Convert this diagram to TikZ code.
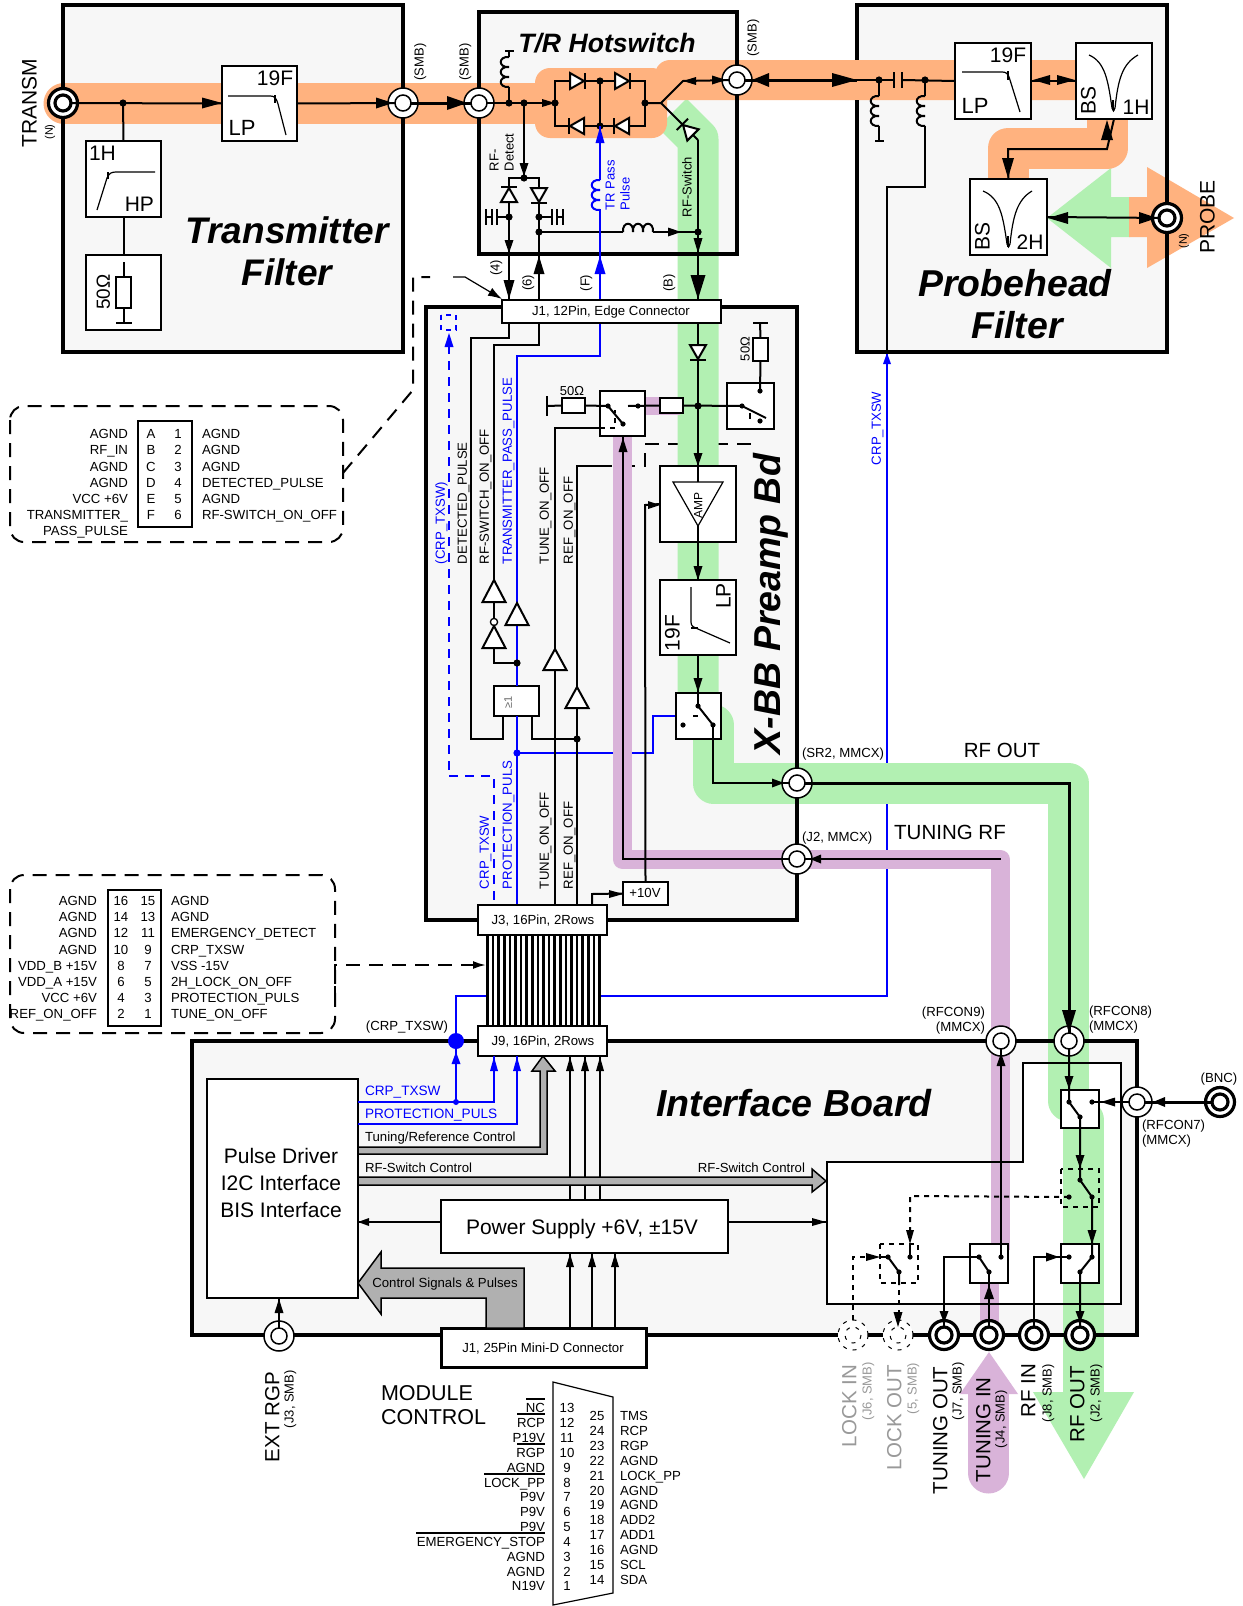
\documentclass[tikz,border=0pt]{standalone}
\usepackage{fontspec}
\setmainfont{Liberation Sans}
\usetikzlibrary{arrows.meta,calc}
\definecolor{oc}{HTML}{FFB27F}
\definecolor{gc}{HTML}{B2F0B2}
\definecolor{pc}{HTML}{D9B3D9}
\definecolor{bg}{HTML}{F7F7F7}
\definecolor{gy}{HTML}{B0B0B0}
\definecolor{lk}{HTML}{999999}
\definecolor{bl}{HTML}{0000FF}
\newcommand\fs[1]{\fontsize{#1}{#1}\selectfont}
\newcount\tcnt
\newcommand\lbl[4][]{\global\advance\tcnt by 1\relax\node[#1] (t\the\tcnt) at (#2,#3) {#4};}
\newcommand\bx[6][wbox]{\node[#1,minimum width={#4-#2},minimum height={#5-#3}] (#6) at ({(#2+#4)/2},{(#3+#5)/2}) {};}
\newcommand\aR[4]{\fill (#1,#2)--++(-#3,-#4)--++(0,{2*#4})--cycle;}
\newcommand\aL[4]{\fill (#1,#2)--++(#3,-#4)--++(0,{2*#4})--cycle;}
\newcommand\aU[4]{\fill (#1,#2)--++(-#4,#3)--++({2*#4},0)--cycle;}
\newcommand\aD[4]{\fill (#1,#2)--++(-#4,-#3)--++({2*#4},0)--cycle;}
\newcommand\dotat[3]{\coordinate (#1) at (#2,#3);\fill (#1) circle[radius=3.6];}
\newcommand\sdot[3]{\coordinate (#1) at (#2,#3);\fill (#1) circle[radius=2.6];}
\newcommand\diode[3]{\begin{scope}[shift={(#1,#2)},rotate=#3]\filldraw[ln,fill=white] (-7,-8)--(-7,8)--(7,0)--cycle;\draw[ln] (8,-8)--(8,8);\end{scope}}
\newcommand\buf[3]{\filldraw[ln,fill=white] (#1,#2)--({#1-11.5},#3)--({#1+11.5},#3)--cycle;}
\newcommand\coilV[4][black]{\foreach \k in {0,1,2}{\draw[ln,#1,fill=none] (#2,{#3+\k*10}) .. controls ({#2-11},{#3+\k*10-1}) and ({#2-11},{#3+\k*10+11}) .. (#2,{#3+\k*10+10});}}
\newcommand\coilH[3]{\foreach \k in {0,1,2}{\draw[ln] ({#1+\k*10},#2) .. controls ({#1+\k*10-1},{#2-11}) and ({#1+\k*10+11},{#2-11}) .. ({#1+\k*10+10},#2);}}
\tikzset{
 wbox/.style={draw,line width=2.2pt,fill=white,inner sep=0pt,outer sep=0pt},
 ln/.style={line width=2pt},
 thk/.style={line width=3pt},
 thn/.style={line width=1.2pt},
 blu/.style={line width=2pt,draw=bl},
 bord/.style={line width=3.4pt,line cap=square},
 band/.style={line width=41pt,line join=round},
 cdash/.style={line width=2pt,dash pattern=on 14pt off 9pt},
 sdash/.style={line width=2pt,dash pattern=on 5pt off 5pt},
 bdash/.style={line width=2pt,draw=bl,dash pattern=on 9pt off 7pt},
 lb/.style={font=\fs{#1},inner sep=0pt,outer sep=0pt,text height=#1*0.72pt,text depth=0pt},
 lb/.default=13.2,
 ti/.style={font=\fs{#1}\bfseries\itshape,inner sep=0pt,outer sep=0pt,text height=#1*0.72pt,text depth=0pt},
 cthin/.style={circle,draw,line width=1.5pt,fill=white,minimum size=30pt,inner sep=0pt,outer sep=0pt},
 cthick/.style={circle,draw,line width=3.2pt,fill=white,minimum size=29pt,inner sep=0pt,outer sep=0pt},
 cgray/.style={circle,fill=white,minimum size=30pt,inner sep=0pt,outer sep=0pt},
 gdash/.style={line width=1pt,dash pattern=on 4pt off 6pt},
}
\begin{document}
\begin{tikzpicture}[x=1pt,y=-1pt]
\useasboundingbox (0,0) rectangle (1242,1606);
\fill[white] (0,0) rectangle (1242,1606);
% box fills
\fill[bg] (63,5) rectangle (403,352);
\fill[bg] (479,12) rectangle (737,254);
\fill[bg] (857,5) rectangle (1167,352);
\fill[bg] (426,307) rectangle (797,920);
\fill[bg] (192,1041) rectangle (1137,1335);
\coordinate (subA) at (827,1162);
\coordinate (subB) at (1023,1162);
\coordinate (subC) at (1023,1063);
\coordinate (subD) at (1121,1063);
\coordinate (subE) at (1121,1304);
\coordinate (subF) at (827,1304);
\fill[white] (subA)--(subB)--(subC)--(subD)--(subE)--(subF)--cycle;
% lines that pass under the bands
\draw[blu] (601,996)--(887,996)--(887,354);
\fill[bl] (887,353)--++(-4,11)--++(8,0)--cycle;
\draw[blu] (517,753)--(653,753)--(653,716)--(676,716);
\draw[ln] (577,708)--(577,466)--(598,466);
\draw[cdash] (598,466)--(645,466)--(645,444)--(752,444)--(752,436);
% bands
\draw[gc,band] (672,113)--(698,139)--(698,700);
\draw[gc,band,line cap=round] (713.5,725)--(713.5,783)--(1068.5,783)--(1068.5,1101);
\draw[gc,band,line cap=round] (1083.5,1120)--(1083.5,1400);
\fill[gc] (1033,1392)--(1134,1392)--(1084,1479)--cycle;
\fill[gc] (1047,218)--(1111,168)--(1111,197)--(1130,197)--(1130,237)--(1111,237)--(1111,268)--cycle;
\draw[oc,band,line cap=round] (64,103.5)--(540,103.5);
\fill[oc,rounded corners=15] (535,68) rectangle (667,138);
\fill[oc,rounded corners=15] (655,110)--(655,60)--(1110,60)--(1110,100)--(655,100)--cycle;
\draw[oc,band] (1107,110)--(1107,148)--(1008,148)--(1008,190);
\fill[oc] (1234,218)--(1147,167)--(1147,197)--(1129,197)--(1129,237)--(1147,237)--(1147,268)--cycle;
\draw[pc,line width=19pt,line join=round] (622.5,437)--(622.5,859.5)--(1000.5,859.5)--(1000.5,1250);
\fill[pc] (640,397) rectangle (680,415);
\draw[pc,line width=19pt] (989,1275)--(989,1345);
\draw[pc,line width=41pt,line cap=round] (988.5,1390)--(988.5,1473);
\fill[pc] (989,1352)--(1018,1394)--(960,1394)--cycle;
% borders
\draw[bord] (63,5) rectangle (403,352);
\draw[bord] (479,12) rectangle (737,254);
\draw[bord] (857,5) rectangle (1167,352);
\fill[oc] (854,60) rectangle (860,100);
\draw[bord] (426,307) rectangle (797,920);
\draw[bord] (192,1041) rectangle (1137,1335);
\draw[ln] (subA)--(subB)--(subC)--(subD)--(subE)--(subF)--cycle;
% white boxes
\bx{222}{66}{297}{141}{txLP}
\bx{86}{141}{161}{217}{txHP}
\bx{86}{255}{161}{330}{txR}
\bx{955}{43}{1031}{119}{prLP}
\bx{1076}{43}{1152}{119}{bs1}
\bx{970}{179}{1047}{255}{bs2}
\bx{600}{391}{645}{436}{sw1}
\bx{727}{383}{774}{429}{sw2}
\bx{660}{466}{736}{542}{amp}
\bx{660}{580}{736}{655}{paLP}
\bx{676}{693}{721}{739}{sw3}
\bx{494}{686}{539}{716}{orG}
\bx{623}{882}{668}{905}{tenV}
\bx{207}{1079}{358}{1298}{pulse}
\bx{441}{1200}{728}{1253}{power}
\bx{1061}{1090}{1099}{1128}{swA}
\bx{970}{1244}{1008}{1283}{swB}
\bx{1061}{1244}{1099}{1283}{swC}
\bx{562}{398}{585}{413}{r1}
\bx{660}{398}{683}{413}{r2}
\bx{753}{338}{768}{361}{r3}
% connectors
\node[cthick] (cTr) at (63,103) {};
\node[cthin] (cTxO) at (403,103) {};
\node[cthin] (cTrI) at (479,103) {};
\node[cthin] (cTrO) at (737,80) {};
\node[cthick] (cPr) at (1167,218) {};
\node[cthin] (cSR) at (797,783) {};
\node[cthin] (cJ2) at (797,859) {};
\node[cthin] (cR9) at (1001,1041) {};
\node[cthin] (cR8) at (1069,1041) {};
\node[cthin] (cR7) at (1137,1102) {};
\node[cthick] (cBNC) at (1220,1102) {};
\node[cthin] (cExt) at (279,1336) {};
\node[cgray] (cLI) at (853,1335) {};
\node[cgray] (cLO) at (898,1335) {};
\node[cthick] (cTO) at (944,1335) {};
\node[cthick] (cTI) at (989,1335) {};
\node[cthick] (cRI) at (1034,1335) {};
\node[cthick] (cRO) at (1080,1335) {};
% ---------- Transmitter filter
\dotat{d1}{123}{103}
\draw[ln] (cTr.center)--(txLP.west);
\aR{222}{103}{20}{5.5}
\draw[ln] (d1)--(txHP.north);
\draw[ln] (txHP.south)--(txR.north);
\draw[ln] (txLP.east)--(cTxO.center);
\aR{393}{103}{17}{5.5}
\draw[thk] (cTxO.center)--(cTrI.center);
\aR{467}{103}{20}{7}
\draw[thn] (228,96)--(270,96) .. controls (274,96) and (276,97) .. (278,104)--(286,135);
\draw[ln] (275,95)--(275,103);
\draw[thn] (97,210)--(107,178) .. controls (109,173) and (112,172) .. (116,172)--(155,172);
\draw[ln] (108,172)--(108,179);
\draw[ln] (124,262)--(124,323);
\draw[ln,fill=white] (116,277) rectangle (131,308);
\draw[ln] (116,323)--(132,323);
% ---------- T/R hotswitch
\dotat{t1}{509}{103}\dotat{t2}{524}{103}\dotat{t3}{555}{103}
\dotat{t4}{600}{81}\dotat{t5}{600}{126}\dotat{t6}{645}{103}
\draw[ln] (cTrI.center)--(t3);
\aR{555}{103}{13}{4}
\draw[ln] (555,81)--(645,81)--(645,126)--(555,126)--cycle;
\draw[ln] (t4)--(t5);
\diode{577}{81}{0}\diode{622}{81}{0}\diode{577}{126}{180}\diode{622}{126}{180}
\draw[ln] (t1)--(509,87);
\coilV{509}{57}{0}
\draw[ln] (509,57)--(509,51);\draw[ln] (505,51)--(514,51);
\coordinate (t7) at (661,103);\coordinate (t8) at (683,81);
\draw[ln] (t6)--(t7)--(t8)--(cTrO.center);
\aL{683}{81}{13}{4}\aR{726}{80}{14}{4.5}
\draw[ln] (t7)--(698,140);
\diode{688}{130}{135}
\dotat{t9}{698}{232}
\draw[ln] (698,140)--(t9)--(698,300);
\aD{698}{253}{15}{4.5}\aD{698}{299}{24}{7.5}
\dotat{t10}{524}{178}
\draw[ln] (t2)--(t10);
\aD{524}{176}{13}{4.5}
\draw[ln] (509,190)--(509,178)--(539,178)--(539,190);
\diode{509}{195}{90}\diode{539}{195}{-90}
\dotat{t11}{509}{217}\dotat{t12}{539}{217}\dotat{t13}{539}{232}
\draw[ln] (509,203)--(t11)--(509,300);
\aD{509}{253}{13}{4.5}\aD{509}{299}{19}{5.5}
\draw[ln] (539,203)--(t12)--(t13)--(539,300);
\aU{539}{256}{18}{5.5}
\draw[ln] (t11)--(497,217);\draw[ln] (497,209)--(497,225);\draw[ln] (492,209)--(492,225);\draw[ln] (492,217)--(486,217);\draw[ln] (486,209)--(486,225);
\draw[ln] (t12)--(552,217);\draw[ln] (552,209)--(552,225);\draw[ln] (557,209)--(557,225);\draw[ln] (557,217)--(563,217);\draw[ln] (563,209)--(563,225);
\draw[ln] (t13)--(623,232);
\coilH{623}{232}{}
\draw[ln] (653,232)--(t9);
\aR{681}{232}{13}{4.5}
\draw[blu] (600,300)--(600,209);
\draw[blu] (600,180)--(t5);
\coilV[bl]{600}{180}{}
\fill[bl] (600,256)--++(-5.5,18)--++(11,0)--cycle;
\fill[bl] (600,127)--++(-4.5,16)--++(9,0)--cycle;
% ---------- Probehead
\draw[thk] (cTrO.center)--(857,80);
\aL{752}{80}{17}{7}\aR{857}{80}{25}{7}
\dotat{p1}{879}{80}\dotat{p2}{925}{80}
\draw[ln] (857,80)--(894,80);\draw[ln] (902,80)--(prLP.west);
\draw[ln] (894,72)--(894,88);\draw[ln] (902,72)--(902,88);
\draw[ln] (p1)--(879,96);\coilV{879}{96}{}
\draw[ln] (879,126)--(879,141);\draw[ln] (875,141)--(884,141);
\draw[ln] (p2)--(925,96);\coilV{925}{96}{}
\draw[ln] (925,126)--(925,187)--(887,187)--(887,352);
\draw[ln] (prLP.east)--(bs1.west);
\aL{1033}{80}{17}{5}\aR{1075}{80}{18}{5}
\draw[ln] (bs1.south)--(1107,149)--(1008,149)--(bs2.north);
\aU{1107}{120}{20}{6}\aD{1008}{178}{20}{6}
\draw[ln] (bs2.east)--(cPr.center);
\aL{1048}{218}{20}{6}\aR{1157}{218}{18}{6}
\draw[thn] (962,72)--(1002,72) .. controls (1006,72) and (1008,73) .. (1010,80)--(1020,112);
\draw[ln] (1008,71)--(1008,80);
\draw[thn] (1089,55) .. controls (1105,62) and (1108,80) .. (1112,108) .. controls (1114,112) and (1113,112) .. (1115,108) .. controls (1118,80) and (1122,64) .. (1138,55);
\draw[ln] (1113,100)--(1113,110);
\draw[thn] (983,191) .. controls (1000,198) and (1003,216) .. (1007,244) .. controls (1009,248) and (1008,248) .. (1010,244) .. controls (1013,216) and (1017,200) .. (1032,191);
\draw[ln] (1008,236)--(1008,247);
% ---------- Preamp
\draw[ln] (509,323)--(509,338)--(471,338)--(471,739)--(503,739)--(503,716);
\draw[ln] (539,323)--(539,345)--(494,345)--(494,580);
\draw[ln] (494,602)--(494,618);
\draw[ln] (494,627)--(494,663)--(517,663);
\buf{494}{580}{602}
\filldraw[line width=1.3pt,fill=white] (494,622) circle[radius=3.6];
\buf{494}{626}{648}
\draw[blu] (600,323)--(600,356)--(517,356)--(517,603);
\draw[blu] (517,625)--(517,686);
\draw[blu] (517,716)--(517,905);
\buf{517}{603}{625}
\fill (517,663) circle[radius=3.6];
\fill[bl] (517,753) circle[radius=3.6];
\draw[ln] (532,716)--(532,739)--(577,739);
\fill (577,739) circle[radius=3.6];
\draw[ln] (555,905)--(555,428)--(600,428);
\draw[ln] (577,708)--(577,905);
\buf{555}{649}{670}
\buf{577}{687}{708}
\draw[sdash] (600,428)--(615,428)--(615,410);
\draw[bdash] (449,776)--(494,776)--(494,905);
\draw[bdash] (449,345)--(449,776);
\draw[line width=2pt,draw=bl,dash pattern=on 5pt off 5pt] (441,315) rectangle (456,330);
\fill[bl] (449,333)--++(-4.5,14)--++(9,0)--cycle;
\draw[ln] (tenV.north)--(645,505)--(amp.west);
\aR{660}{505}{12}{4}
\draw[ln] (592,905)--(592,894)--(tenV.west);
\aR{623}{894}{14}{4}
\draw[line width=2.4pt] (623,436)--(623,859)--(cJ2.center);
\aU{623}{438}{14}{4.5}
\draw[line width=2.4pt] (cJ2.center)--(1001,859);
\aL{810}{859}{11}{4.5}
% main RF chain
\draw[ln] (698,323)--(698,345);
\diode{698}{352}{-90}
\draw[ln] (698,360)--(amp.north);
\aD{698}{466}{13}{4.5}
\dotat{m1}{698}{406}
\draw[ln] (628,406)--(r2.west);\draw[ln] (r2.east)--(742,406);
\sdot{s1}{638}{406}
\sdot{s2}{742}{406}\sdot{s3}{760}{391}\sdot{s4}{760}{421}
\draw[ln] (s2)--(766,418);
\draw[ln] (750,413)--(750,419);
\draw[ln] (s3)--(r3.south);\draw[ln] (r3.north)--(760,323);\draw[ln] (753,323)--(768,323);
\draw[ln] (547,406)--(r1.west);\draw[ln] (547,396)--(547,416);
\draw[ln] (r1.east)--(608,406);
\sdot{s5}{608}{406}
\sdot{s6}{623}{424}
\draw[ln] (s5)--(s6);
\draw[ln] (698,466)--(698,482);
\filldraw[thn,fill=white] (673,482)--(723,482)--(698,526)--cycle;
\draw[ln] (698,526)--(698,542);
\draw[ln] (amp.south)--(paLP.north);
\aD{698}{580}{14}{4.5}
\draw[ln] (paLP.south)--(698,706);
\aD{698}{692}{14}{4.5}
\sdot{s7}{698}{706}\sdot{s8}{713}{725}\sdot{s9}{683}{725}
\draw[ln] (s7)--(s8);
\draw[ln] (693,716)--(698,716);
\draw[ln] (s8)--(713,783)--(cSR.center);
\aR{784}{783}{12}{4.5}
\draw[thn] (691,587)--(691,622) .. controls (691,626) and (693,627) .. (698,629)--(730,643);
\draw[ln] (691,628)--(698,628);
% RF out
\draw[thk] (cSR.center)--(1069,783)--(cR8.center);
\aD{1069}{1033}{23}{7}
\draw[thk] (cBNC.center)--(cR7.center);
\aL{1153}{1102}{12}{5}
% J connectors
\bx{502}{300}{721}{323}{J1}
\bx{478}{905}{607}{935}{J3}
\bx{478}{1026}{607}{1056}{J9}
\bx[wbox,line width=3pt]{441}{1328}{646}{1367}{Jmini}
% ribbon
\foreach \i in {0,...,20}{\draw[line width=2.6pt] ({487.5+\i*5.6},935)--({487.5+\i*5.6},1026);}
% callout arrows
\draw[cdash] (343,473)--(413,390)--(413,277)--(430,277);
\draw[line width=1.2pt,-{Latex[length=14pt,width=9pt]}] (453,277)--(465,277)--(502,299);
\draw[cdash] (335,1000)--(335,965)--(470,965);
\draw[line width=2pt,-{Latex[length=13pt,width=8pt]}] (470,965)--(486,965);
% ---------- Interface
\draw[blu] (486,996)--(456,996)--(456,1041);
\fill[bl] (456,1041) circle[radius=8];
\draw[blu] (358,1102)--(494,1102)--(494,1056);
\draw[blu] (456,1102)--(456,1041);
\fill[bl] (456,1102) circle[radius=3];
\draw[blu] (358,1124)--(517,1124)--(517,1056);
\fill[bl] (456,1052)--++(-4.5,12)--++(9,0)--cycle;
\fill[bl] (494,1057)--++(-4,14)--++(8,0)--cycle;
\fill[bl] (517,1057)--++(-4,14)--++(8,0)--cycle;
\foreach \x in {570,585,600}{\draw[ln] (\x,1056)--(\x,1200);\aU{\x}{1057}{14}{4}}
\foreach \x in {570,592,615}{\draw[ln] (\x,1253)--(\x,1328);\aU{\x}{1254}{13}{4}}
\filldraw[line width=1.5pt,fill=gy] (358,1147)--(540,1147)--(540,1071)--(532,1071)--(543,1056)--(555,1071)--(547,1071)--(547,1154)--(358,1154)--cycle;
\filldraw[line width=1.5pt,fill=gy] (358,1177)--(812,1177)--(812,1169)--(826,1181)--(812,1192)--(812,1185)--(358,1185)--cycle;
\filldraw[line width=1.5pt,fill=gy] (358,1283)--(381,1252)--(381,1268)--(524,1268)--(524,1328)--(486,1328)--(486,1298)--(381,1298)--(381,1314)--cycle;
\draw[ln] (power.west|-0,1222)--(358,1222);
\aL{358}{1222}{11}{4}
\draw[ln] (power.east|-0,1222)--(827,1222);
\aR{826}{1222}{14}{4}
\draw[ln] (cExt.center)--(279,1298);
\aU{279}{1299}{14}{4.5}
% switch network
\sdot{a1}{1069}{1102}\sdot{a2}{1080}{1117}\sdot{a3}{1092}{1102}
\draw[ln] (cR8.center)--(a1)--(a2);
\aD{1069}{1089}{13}{4.5}
\draw[ln] (cR7.center)--(a3);
\aL{1101}{1102}{14}{4.5}
\draw[sdash] (1061,1169) rectangle (1099,1207);
\sdot{b1}{1080}{1180}\sdot{b2}{1092}{1197}\sdot{b3}{1069}{1197}
\draw[ln] (a2)--(b1)--(b2)--(1092,1257);
\aD{1080}{1168}{13}{4.5}
\aD{1092}{1244}{14}{4.5}
\sdot{c1}{1069}{1257}\sdot{c2}{1092}{1257}\sdot{c3}{1080}{1272}
\draw[ln] (c2)--(c3)--(cRO.center);
\aD{1080}{1323}{12}{4.5}
\draw[ln] (cRI.center)--(1034,1257)--(c1);
\aR{1059}{1257}{13}{4.5}
\sdot{e1}{979}{1257}\sdot{e2}{989}{1272}\sdot{e3}{1001}{1257}
\draw[line width=2.4pt] (e3)--(cR9.center);
\aU{1001}{1053}{13}{4.5}
\draw[ln] (e1)--(e2);
\draw[line width=2.4pt] (cTI.center)--(e2);
\aU{989}{1285}{14}{5}
\draw[ln] (e1)--(944,1257)--(cTO.center);
\aD{944}{1323}{12}{4.5}
\draw[sdash] (880,1244) rectangle (918,1283);
\sdot{f1}{910}{1257}\sdot{f2}{888}{1257}\sdot{f3}{899}{1272}
\draw[ln] (f2)--(f3)--(899,1285);
\draw[ln] (880,1257)--(f2);
\draw[ln] (f1)--(910,1244);
\draw[sdash] (b3)--(910,1196)--(910,1232);
\aD{910}{1244}{14}{4}
\draw[sdash] (899,1290)--(899,1320);
\aD{898}{1327}{15}{4.5}
\draw[sdash] (853,1320)--(853,1257)--(866,1257);
\aR{880}{1257}{14}{4}
% inner rings
\foreach \c in {cTxO,cTrI,cTrO,cSR,cJ2,cR9,cR8,cR7,cExt}{\filldraw[line width=1.5pt,fill=white] (\c.center) circle[radius=8];}
\foreach \c in {cTr,cPr,cBNC,cTO,cTI,cRI,cRO}{\filldraw[line width=3.2pt,fill=white] (\c.center) circle[radius=8];}
\foreach \c in {cLI,cLO}{\draw[gdash] (\c.center) circle[radius=15];\draw[gdash] (\c.center) circle[radius=8];}
% dashed pin boxes
\draw[cdash,rounded corners=14] (10,406) rectangle (343,542);
\draw[cdash,rounded corners=14] (10,875) rectangle (335,1033);
\draw[line width=2.2pt] (138,421) rectangle (192,527);
\draw[line width=2.2pt] (108,890) rectangle (161,1026);
\foreach \y/\a/\n/\b/\c [count=\i] in {434/AGND/A/1/AGND,450/RF\_IN/B/2/AGND,467/AGND/C/3/AGND,483/AGND/D/4/DETECTED\_PULSE,499/VCC +6V/E/5/AGND,515/TRANSMITTER\_/F/6/RF-SWITCH\_ON\_OFF}{
 \node[lb,anchor=east] (pa\i) at (128,\y) {\a};
 \node[lb] (pb\i) at (151,\y) {\n};
 \node[lb] (pc\i) at (178,\y) {\b};
 \node[lb,anchor=west] (pd\i) at (202,\y) {\c};
}
\lbl[lb,anchor=east]{128}{531}{PASS\_PULSE}
\foreach \y/\a/\n/\b/\c [count=\i] in {901/AGND/16/15/AGND,917/AGND/14/13/AGND,933/AGND/12/11/EMERGENCY\_DETECT,950/AGND/10/9/CRP\_TXSW,966/VDD\_B +15V/8/7/VSS -15V,982/VDD\_A +15V/6/5/2H\_LOCK\_ON\_OFF,998/VCC +6V/4/3/PROTECTION\_PULS,1014/REF\_ON\_OFF/2/1/TUNE\_ON\_OFF}{
 \node[lb,anchor=east] (qa\i) at (97,\y) {\a};
 \node[lb] (qb\i) at (121,\y) {\n};
 \node[lb] (qc\i) at (148,\y) {\b};
 \node[lb,anchor=west] (qd\i) at (171,\y) {\c};
}
% module control
\draw[thn] (553,1382)--(613,1397)--(613,1593)--(553,1605)--cycle;
\foreach \a/\n [count=\i from 0] in {NC/13,RCP/12,P19V/11,RGP/10,AGND/9,LOCK\_PP/8,P9V/7,P9V/6,P9V/5,EMERGENCY\_STOP/4,AGND/3,AGND/2,N19V/1}{
 \pgfmathsetmacro\yy{1408+\i*14.85}
 \node[lb,anchor=east] (ma\i) at (545,\yy) {\a};
 \node[lb] (mb\i) at (567,\yy) {\n};
}
\foreach \n/\a [count=\i from 0] in {25/TMS,24/RCP,23/RGP,22/AGND,21/LOCK\_PP,20/AGND,19/AGND,18/ADD2,17/ADD1,16/AGND,15/SCL,14/SDA}{
 \pgfmathsetmacro\yy{1416+\i*14.85}
 \node[lb] (mc\i) at (597,\yy) {\n};
 \node[lb,anchor=west] (md\i) at (620,\yy) {\a};
}
\draw[thn] (526,1399)--(545,1399);
\draw[thn] (517,1414)--(545,1414);
\draw[thn] (517,1444)--(545,1444);
\draw[thn] (484,1474)--(545,1474);
\draw[thn] (416,1533)--(545,1533);
% ---------- titles
\lbl[ti=37]{287}{230}{Transmitter}
\lbl[ti=37]{287}{272}{Filter}
\lbl[ti=37.4]{1015}{283}{Probehead}
\lbl[ti=37.4]{1017}{325}{Filter}
\lbl[ti=26.6]{607}{43}{T/R Hotswitch}
\lbl[ti=37.6]{794}{1103}{Interface Board}
\lbl[ti=37.5,rotate=90]{767}{604}{X-BB Preamp Bd}
% ---------- filter labels
\lbl[lb=21]{275}{78}{19F}
\lbl[lb=22]{242}{128}{LP}
\lbl[lb=21,anchor=west]{89}{153}{1H}
\lbl[lb=21,anchor=east]{154}{204}{HP}
\lbl[lb=19,rotate=90]{103}{292}{50Ω}
\lbl[lb=21]{1008}{55}{19F}
\lbl[lb=22]{975}{106}{LP}
\lbl[lb=21,rotate=90]{1088}{100}{BS}
\lbl[lb=21]{1136}{107}{1H}
\lbl[lb=21,rotate=90]{982}{236}{BS}
\lbl[lb=21]{1030}{242}{2H}
\lbl[lb=21,rotate=90]{672}{633}{19F}
\lbl[lb=21,rotate=90]{723}{596}{LP}
\lbl[lb=12,rotate=90]{698}{505}{AMP}
\lbl[lb=11,rotate=90,text=black!60]{508}{702}{≥1}
\lbl[lb=13]{572}{391}{50Ω}
\lbl[lb=13,rotate=90]{745}{349}{50Ω}
% connector labels
\lbl[lb=13,rotate=90]{419}{62}{(SMB)}
\lbl[lb=13,rotate=90]{464}{62}{(SMB)}
\lbl[lb=13,rotate=90]{752}{38}{(SMB)}
\lbl[lb=21,rotate=90]{29}{103}{TRANSM}
\lbl[lb=11,rotate=90]{49}{132}{(N)}
\lbl[lb=21,rotate=90]{1207}{217}{PROBE}
\lbl[lb=11,rotate=90]{1183}{241}{(N)}
\lbl[lb=13,rotate=90,anchor=west]{494}{171}{RF-}
\lbl[lb=13,rotate=90,anchor=west]{509}{171}{Detect}
\lbl[lb=13,rotate=90,anchor=west,text=bl]{610}{210}{TR Pass}
\lbl[lb=13,rotate=90,anchor=west,text=bl]{625}{210}{Pulse}
\lbl[lb=13,rotate=90,anchor=west]{687}{217}{RF-Switch}
\lbl[lb=13,rotate=90]{495}{268}{(4)}
\lbl[lb=13,rotate=90]{527}{283}{(6)}
\lbl[lb=13,rotate=90]{585}{283}{(F)}
\lbl[lb=13,rotate=90]{668}{283}{(B)}
\lbl[lb]{611}{311}{J1, 12Pin, Edge Connector}
\lbl[lb]{543}{920}{J3, 16Pin, 2Rows}
\lbl[lb]{543}{1041}{J9, 16Pin, 2Rows}
\lbl[lb]{645}{893}{+10V}
\lbl[lb]{543}{1348}{J1, 25Pin Mini-D Connector}
% preamp rotated labels
\lbl[lb,rotate=90,anchor=west]{462}{564}{DETECTED\_PULSE}
\lbl[lb,rotate=90,anchor=west]{484}{564}{RF-SWITCH\_ON\_OFF}
\lbl[lb,rotate=90,anchor=west,text=bl]{507}{564}{TRANSMITTER\_PASS\_PULSE}
\lbl[lb,rotate=90,anchor=west,text=bl]{440}{564}{(CRP\_TXSW)}
\lbl[lb,rotate=90,anchor=west]{544}{564}{TUNE\_ON\_OFF}
\lbl[lb,rotate=90,anchor=west]{568}{564}{REF\_ON\_OFF}
\lbl[lb,rotate=90,anchor=west,text=bl]{484}{889}{CRP\_TXSW}
\lbl[lb,rotate=90,anchor=west,text=bl]{507}{889}{PROTECTION\_PULS}
\lbl[lb,rotate=90,anchor=west]{544}{889}{TUNE\_ON\_OFF}
\lbl[lb,rotate=90,anchor=west]{568}{889}{REF\_ON\_OFF}
\lbl[lb,rotate=90,anchor=west,text=bl]{876}{465}{CRP\_TXSW}
\lbl[lb,anchor=west]{802}{753}{(SR2, MMCX)}
\lbl[lb,anchor=west]{802}{837}{(J2, MMCX)}
\lbl[lb=20.5]{1002}{750}{RF OUT}
\lbl[lb=20.5]{950}{832}{TUNING RF}
\lbl[lb,anchor=east]{448}{1026}{(CRP\_TXSW)}
\lbl[lb,anchor=east]{985}{1012}{(RFCON9)}
\lbl[lb,anchor=east]{985}{1027}{(MMCX)}
\lbl[lb,anchor=west]{1089}{1011}{(RFCON8)}
\lbl[lb,anchor=west]{1089}{1026}{(MMCX)}
\lbl[lb]{1219}{1078}{(BNC)}
\lbl[lb,anchor=west]{1142}{1125}{(RFCON7)}
\lbl[lb,anchor=west]{1142}{1140}{(MMCX)}
% interface labels
\lbl[lb=13.6,anchor=west,text=bl]{365}{1091}{CRP\_TXSW}
\lbl[lb=13.6,anchor=west,text=bl]{365}{1114}{PROTECTION\_PULS}
\lbl[lb,anchor=west]{365}{1137}{Tuning/Reference Control}
\lbl[lb,anchor=west]{365}{1168}{RF-Switch Control}
\lbl[lb,anchor=east]{805}{1168}{RF-Switch Control}
\lbl[lb=21]{281}{1156}{Pulse Driver}
\lbl[lb=21]{281}{1183}{I2C Interface}
\lbl[lb=21]{281}{1210}{BIS Interface}
\lbl[lb=21]{582}{1227}{Power Supply +6V, ±15V}
\lbl[lb]{445}{1283}{Control Signals \& Pulses}
% bottom labels
\lbl[lb=20.5,rotate=90,anchor=west]{272}{1462}{EXT RGP}
\lbl[lb=13,rotate=90,anchor=west]{289}{1428}{(J3, SMB)}
\lbl[lb=21.5,anchor=west]{381}{1393}{MODULE}
\lbl[lb=21.5,anchor=west]{381}{1417}{CONTROL}
\lbl[lb=20.5,rotate=90,anchor=west,text=lk]{849}{1447}{LOCK IN}
\lbl[lb=13,rotate=90,anchor=west,text=lk]{867}{1420}{(J6, SMB)}
\lbl[lb=20.5,rotate=90,anchor=west,text=lk]{894}{1470}{LOCK OUT}
\lbl[lb=13,rotate=90,anchor=west,text=lk]{912}{1414}{(5, SMB)}
\lbl[lb=20.5,rotate=90,anchor=west]{940}{1494}{TUNING OUT}
\lbl[lb=13,rotate=90,anchor=west]{957}{1420}{(J7, SMB)}
\lbl[lb=20.5,rotate=90,anchor=west]{983}{1482}{TUNING IN}
\lbl[lb=13,rotate=90,anchor=west]{1000}{1448}{(J4, SMB)}
\lbl[lb=20.5,rotate=90,anchor=west]{1028}{1417}{RF IN}
\lbl[lb=13,rotate=90,anchor=west]{1047}{1422}{(J8, SMB)}
\lbl[lb=20.5,rotate=90,anchor=west]{1077}{1442}{RF OUT}
\lbl[lb=13,rotate=90,anchor=west]{1095}{1422}{(J2, SMB)}
\end{tikzpicture}
\end{document}
